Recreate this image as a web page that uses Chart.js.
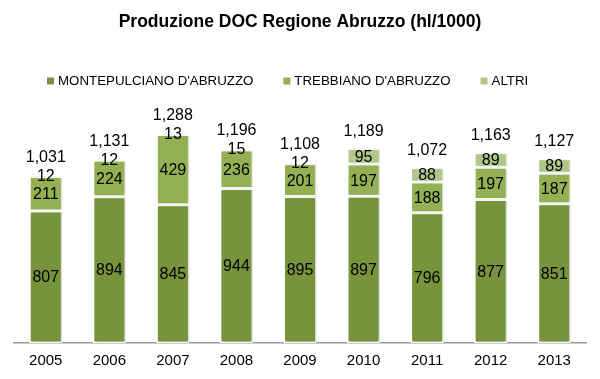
<!DOCTYPE html>
<html>
<head>
<meta charset="utf-8">
<script src="https://cdn.jsdelivr.net/npm/chart.js@4/dist/chart.umd.min.js"></script>
<style>
html,body{margin:0;padding:0;background:#fff;}
#wrap{width:600px;height:379px;position:relative;}
</style>
</head>
<body>
<div id="wrap"><canvas id="c" width="600" height="379"></canvas></div>
<script>
const titleText = 'Produzione DOC Regione Abruzzo (hl/1000)';
const years = ['2005','2006','2007','2008','2009','2010','2011','2012','2013'];
const montepulciano = [807, 894, 845, 944, 895, 897, 796, 877, 851];
const trebbiano = [211, 224, 429, 236, 201, 197, 188, 197, 187];
const altri = [12, 12, 13, 15, 12, 95, 88, 89, 89];
const totals = [1031, 1131, 1288, 1196, 1108, 1189, 1072, 1163, 1127];
const seriesNames = ["MONTEPULCIANO D'ABRUZZO", "TREBBIANO D'ABRUZZO", "ALTRI"];
const seriesColors = ['#77933C', '#93B153', '#B0C78A'];

const SANS = "'Liberation Sans', Arial, sans-serif";

const titlePlugin = {
  id: 'customTitle',
  afterDraw(chart) {
    const ctx = chart.ctx;
    ctx.save();
    ctx.font = 'bold 17.5px ' + SANS;
    ctx.fillStyle = '#000';
    ctx.textAlign = 'center';
    ctx.textBaseline = 'middle';
    ctx.fillText(titleText, 300, 22);
    ctx.restore();
  }
};

const legendPlugin = {
  id: 'customLegend',
  afterDraw(chart) {
    const ctx = chart.ctx;
    ctx.save();
    ctx.font = '13.3px ' + SANS;
    ctx.textAlign = 'left';
    ctx.textBaseline = 'middle';
    let x = 47;
    const y = 81;
    chart.data.datasets.forEach((ds) => {
      ctx.fillStyle = ds.backgroundColor;
      ctx.fillRect(x, y - 3.5, 7, 7);
      ctx.fillStyle = '#000';
      ctx.fillText(ds.label, x + 11, y + 0.5);
      x += 11 + ctx.measureText(ds.label).width + 30;
    });
    ctx.restore();
  }
};

const shadowPlugin = {
  id: 'barShadow',
  beforeDatasetsDraw(chart) {
    const ctx = chart.ctx;
    ctx.save();
    ctx.shadowColor = 'rgba(0,0,0,0.14)';
    ctx.shadowOffsetX = 2;
    ctx.shadowOffsetY = 0;
    ctx.shadowBlur = 2;
  },
  afterDatasetsDraw(chart) {
    chart.ctx.restore();
  }
};

const labelPlugin = {
  id: 'segLabels',
  afterDatasetsDraw(chart) {
    const ctx = chart.ctx;
    ctx.save();
    ctx.fillStyle = '#000';
    ctx.textAlign = 'center';
    ctx.textBaseline = 'middle';
    ctx.font = '16px ' + SANS;
    chart.data.datasets.forEach((ds, di) => {
      const meta = chart.getDatasetMeta(di);
      meta.data.forEach((el, i) => {
        const y = (el.y + el.base) / 2;
        ctx.fillText(String(ds.data[i]), el.x, y + 1);
      });
    });
    const last = chart.getDatasetMeta(chart.data.datasets.length - 1);
    last.data.forEach((el, i) => {
      ctx.fillText(totals[i].toLocaleString('en-US'), el.x, el.y - 17);
    });
    ctx.restore();
  }
};

new Chart(document.getElementById('c'), {
  type: 'bar',
  data: {
    labels: years,
    datasets: [
      { label: seriesNames[0], data: montepulciano, backgroundColor: seriesColors[0] },
      { label: seriesNames[1], data: trebbiano, backgroundColor: seriesColors[1] },
      { label: seriesNames[2], data: altri, backgroundColor: seriesColors[2] }
    ].map(d => Object.assign(d, { borderColor: '#ffffff', borderWidth: 1.5, borderSkipped: false, barPercentage: 0.52, categoryPercentage: 1 }))
  },
  options: {
    responsive: false,
    animation: false,
    layout: { padding: { top: 114, left: 14, right: 14, bottom: 0 } },
    plugins: {
      title: { display: false },
      tooltip: { enabled: false },
      legend: { display: false }
    },
    scales: {
      x: {
        stacked: true,
        grid: { display: false, drawTicks: false },
        border: { display: true, color: '#999', width: 1.5 },
        ticks: { color: '#000', font: { family: SANS, size: 15 }, padding: 9 }
      },
      y: {
        stacked: true,
        display: false,
        min: 0,
        max: 1400
      }
    }
  },
  plugins: [shadowPlugin, labelPlugin, titlePlugin, legendPlugin]
});
</script>
</body>
</html>
